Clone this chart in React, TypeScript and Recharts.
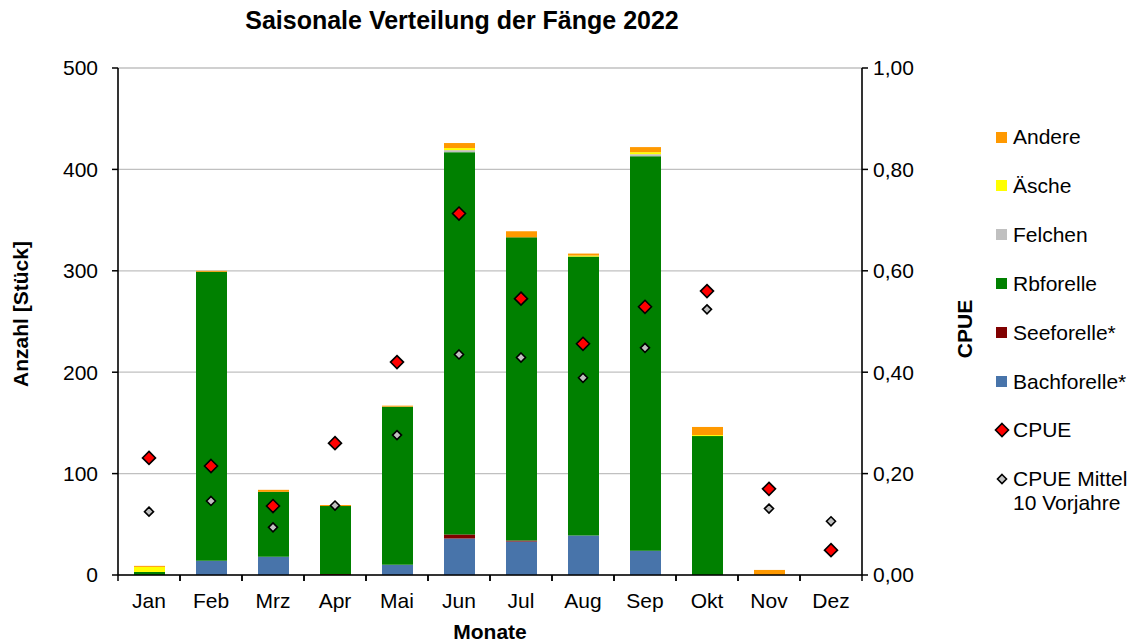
import React from 'react';
import { ComposedChart, Bar, Scatter, XAxis, YAxis, CartesianGrid, Legend } from 'recharts';

const months = ['Jan', 'Feb', 'Mrz', 'Apr', 'Mai', 'Jun', 'Jul', 'Aug', 'Sep', 'Okt', 'Nov', 'Dez'];
const bachforelle = [0, 14, 18, 0, 10, 36, 33, 39, 24, 0, 0, 0];
const seeforelle = [0, 0, 0, 1, 0, 4, 1, 0, 0, 0, 0, 0];
const rbforelle = [3, 285, 64, 67, 156, 377, 299, 275, 389, 137, 0, 0];
const felchen = [0, 0, 0, 0, 0, 2, 0, 0, 2, 0, 0, 0];
const aesche = [5, 0, 0, 0, 0, 2, 0, 1, 2, 1, 0, 0];
const andere = [1, 1, 2, 1, 1, 5, 6, 2, 5, 8, 5, 0];
const cpue = [0.231, 0.215, 0.136, 0.26, 0.42, 0.713, 0.545, 0.456, 0.529, 0.56, 0.17, 0.049];
const cpueMittel = [0.125, 0.146, 0.094, 0.137, 0.276, 0.435, 0.429, 0.389, 0.448, 0.524, 0.131, 0.106];
const leftTicks = [0, 100, 200, 300, 400, 500];
const rightTicks = [0, 0.2, 0.4, 0.6, 0.8, 1.0];

const data = months.map((m, i) => ({
  month: m,
  bachforelle: bachforelle[i],
  seeforelle: seeforelle[i],
  rbforelle: rbforelle[i],
  felchen: felchen[i],
  aesche: aesche[i],
  andere: andere[i],
  cpue: cpue[i],
  cpueMittel: cpueMittel[i],
}));

const FONT = '"Liberation Sans", Arial, sans-serif';
const C = {
  andere: '#ff9900',
  aesche: '#ffff00',
  felchen: '#c0c0c0',
  rbforelle: '#008000',
  seeforelle: '#800000',
  bachforelle: '#4874aa',
  cpue: '#ff0000',
  mittel: '#c0c0c0',
};

const Diamond = ({ cx, cy, r, fill }: any) => (
  <polygon
    points={`${cx},${cy - r} ${cx + r},${cy} ${cx},${cy + r} ${cx - r},${cy}`}
    fill={fill}
    stroke="#000"
    strokeWidth={1.6}
  />
);

const XTick = (props: any) => {
  const { x, y, payload } = props;
  const half = 31;
  return (
    <g>
      <line x1={x - half} x2={x - half} y1={y - 6} y2={y} stroke="#000" strokeWidth={1.5} />
      <line x1={x + half} x2={x + half} y1={y - 6} y2={y} stroke="#000" strokeWidth={1.5} />
      <text x={x} y={y + 27} textAnchor="middle" fontSize={21} fill="#000" fontFamily={FONT}>
        {payload.value}
      </text>
    </g>
  );
};

const legendItems = [
  { label: ['Andere'], color: C.andere, kind: 'square' },
  { label: ['Äsche'], color: C.aesche, kind: 'square' },
  { label: ['Felchen'], color: C.felchen, kind: 'square' },
  { label: ['Rbforelle'], color: C.rbforelle, kind: 'square' },
  { label: ['Seeforelle*'], color: C.seeforelle, kind: 'square' },
  { label: ['Bachforelle*'], color: C.bachforelle, kind: 'square' },
  { label: ['CPUE'], color: C.cpue, kind: 'big' },
  { label: ['CPUE Mittel', '10 Vorjahre'], color: C.mittel, kind: 'small' },
];

const LegendContent = () => (
  <div style={{ position: 'relative', width: 144, height: 400, fontFamily: FONT, fontSize: 21, color: '#000' }}>
    {legendItems.map((it, i) => (
      <div key={i} style={{ position: 'absolute', left: 0, top: i * 48.9, lineHeight: '24px', paddingLeft: 17, whiteSpace: 'nowrap' }}>
        {it.kind === 'square' ? (
          <div style={{ position: 'absolute', left: 0, top: 6.5, width: 11, height: 11, background: it.color }} />
        ) : (
          <svg style={{ position: 'absolute', left: -2, top: 3 }} width={18} height={18}>
            <Diamond cx={8} cy={9} r={it.kind === 'big' ? 6.5 : 4.5} fill={it.color} />
          </svg>
        )}
        {it.label.map((l, j) => (
          <div key={j}>{l}</div>
        ))}
      </div>
    ))}
  </div>
);

export default function App() {
  return (
    <div style={{ position: 'absolute', left: 0, top: 0, width: 1140, height: 643, background: '#fff' }}>
      <ComposedChart
        width={1140}
        height={643}
        data={data}
        margin={{ top: 68, right: 198, bottom: 28, left: 40 }}
      >
        <CartesianGrid yAxisId="left" vertical={false} stroke="#c0c0c0" strokeWidth={1.3} />
        <XAxis
          dataKey="month"
          height={40}
          interval={0}
          tickLine={false}
          tickSize={6}
          tickMargin={0}
          axisLine={{ stroke: '#000', strokeWidth: 1.6 }}
          tick={<XTick />}
        />
        <YAxis
          yAxisId="left"
          width={78}
          domain={[0, 500]}
          ticks={leftTicks}
          interval={0}
          tickSize={6}
          tickMargin={14}
          axisLine={{ stroke: '#000', strokeWidth: 1.6 }}
          tickLine={{ stroke: '#000', strokeWidth: 1.5 }}
          tick={{ fill: '#000', fontSize: 21, fontFamily: FONT }}
        />
        <YAxis
          yAxisId="right"
          orientation="right"
          width={80}
          domain={[0, 1]}
          ticks={rightTicks}
          interval={0}
          tickSize={6}
          tickMargin={5}
          tickFormatter={(v: number) => v.toFixed(2).replace('.', ',')}
          axisLine={{ stroke: '#000', strokeWidth: 1.6 }}
          tickLine={{ stroke: '#000', strokeWidth: 1.5 }}
          tick={{ fill: '#000', fontSize: 21, fontFamily: FONT }}
        />
        <Bar yAxisId="left" dataKey="bachforelle" stackId="s" fill={C.bachforelle} barSize={31} isAnimationActive={false} />
        <Bar yAxisId="left" dataKey="seeforelle" stackId="s" fill={C.seeforelle} barSize={31} isAnimationActive={false} />
        <Bar yAxisId="left" dataKey="rbforelle" stackId="s" fill={C.rbforelle} barSize={31} isAnimationActive={false} />
        <Bar yAxisId="left" dataKey="felchen" stackId="s" fill={C.felchen} barSize={31} isAnimationActive={false} />
        <Bar yAxisId="left" dataKey="aesche" stackId="s" fill={C.aesche} barSize={31} isAnimationActive={false} />
        <Bar yAxisId="left" dataKey="andere" stackId="s" fill={C.andere} barSize={31} isAnimationActive={false} />
        <Scatter
          yAxisId="right"
          dataKey="cpueMittel"
          isAnimationActive={false}
          shape={(p: any) => <Diamond cx={p.cx} cy={p.cy} r={4.5} fill={C.mittel} />}
        />
        <Scatter
          yAxisId="right"
          dataKey="cpue"
          isAnimationActive={false}
          shape={(p: any) => <Diamond cx={p.cx} cy={p.cy} r={6.5} fill={C.cpue} />}
        />
        <Legend
          layout="vertical"
          align="center"
          verticalAlign="middle"
          content={<LegendContent />}
          wrapperStyle={{ left: 996, top: 125, width: 144 }}
        />
      </ComposedChart>
      <svg
        width={1140}
        height={643}
        style={{ position: 'absolute', left: 0, top: 0, pointerEvents: 'none' }}
        fontFamily={FONT}
      >
        <text x={462} y={29} textAnchor="middle" fontWeight="bold" fontSize={25} fill="#000">
          Saisonale Verteilung der Fänge 2022
        </text>
        <text transform="translate(28,314) rotate(-90)" textAnchor="middle" fontWeight="bold" fontSize={21} fill="#000">
          Anzahl [Stück]
        </text>
        <text transform="translate(972,329) rotate(-90)" textAnchor="middle" fontWeight="bold" fontSize={21} fill="#000">
          CPUE
        </text>
        <text x={490} y={639} textAnchor="middle" fontWeight="bold" fontSize={21} fill="#000">
          Monate
        </text>
      </svg>
    </div>
  );
}
